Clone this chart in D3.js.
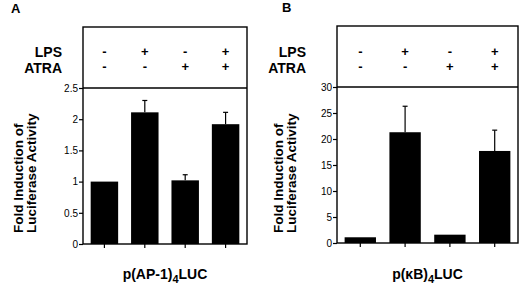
<!DOCTYPE html>
<html>
<head>
<meta charset="utf-8">
<script src="https://cdn.jsdelivr.net/npm/d3@7"></script>
<style>
  body { margin: 0; background: #fff; }
  svg { display: block; font-family: "Liberation Sans", Arial, Helvetica, sans-serif; }
</style>
</head>
<body>
<div id="chart"></div>
<script>
// treatments per bar
const lpsRow = ["-", "+", "-", "+"];
const atraRow = ["-", "-", "+", "+"];

// panel A: p(AP-1)4LUC
const ap1Values = [1.0, 2.11, 1.02, 1.92];
const ap1Errors = [0, 0.19, 0.09, 0.19];
const ap1Ticks = [0, 0.5, 1, 1.5, 2, 2.5];

// panel B: p(kB)4LUC
const kbValues = [1.1, 21.3, 1.6, 17.7];
const kbErrors = [0, 5.0, 0, 4.0];
const kbTicks = [0, 5, 10, 15, 20, 25, 30];

const svg = d3.select("#chart").append("svg")
    .attr("width", 520)
    .attr("height", 285);

function drawPanel(opt) {
    let g = svg.append("g");

    let x = d3.scaleBand()
        .domain(d3.range(4))
        .range([opt.left, opt.right])
        .paddingInner(opt.padIn)
        .paddingOuter(opt.padOut);

    let y = d3.scaleLinear()
        .domain([0, opt.ticks[opt.ticks.length - 1]])
        .range([opt.bottom, opt.divider]);

    // panel letter
    g.append("text")
        .attr("x", opt.letterX)
        .attr("y", opt.letterY)
        .style("font-size", "13px")
        .style("font-weight", "bold")
        .text(opt.letter);

    // frame: top box + plot box
    g.append("rect")
        .attr("x", opt.left)
        .attr("y", opt.top)
        .attr("width", opt.right - opt.left)
        .attr("height", opt.bottom - opt.top)
        .attr("fill", "none")
        .attr("stroke", "#000")
        .attr("stroke-width", 1.4);

    g.append("line")
        .attr("x1", opt.left).attr("x2", opt.right)
        .attr("y1", opt.divider).attr("y2", opt.divider)
        .attr("stroke", "#000")
        .attr("stroke-width", 1.4);

    // treatment rows
    g.append("text")
        .attr("x", opt.rowLabelX)
        .attr("y", 57)
        .attr("text-anchor", "end")
        .style("font-size", "14px")
        .style("font-weight", "bold")
        .text("LPS");

    g.append("text")
        .attr("x", opt.rowLabelX)
        .attr("y", 73)
        .attr("text-anchor", "end")
        .style("font-size", "14px")
        .style("font-weight", "bold")
        .text("ATRA");

    g.selectAll("text.lps")
        .data(lpsRow)
        .join("text")
        .attr("class", "lps")
        .attr("x", (d, i) => x(i) + x.bandwidth() / 2)
        .attr("y", 56)
        .attr("text-anchor", "middle")
        .style("font-size", "13px")
        .style("font-weight", "bold")
        .text(d => d);

    g.selectAll("text.atra")
        .data(atraRow)
        .join("text")
        .attr("class", "atra")
        .attr("x", (d, i) => x(i) + x.bandwidth() / 2)
        .attr("y", 71)
        .attr("text-anchor", "middle")
        .style("font-size", "13px")
        .style("font-weight", "bold")
        .text(d => d);

    // y axis
    let yAxis = d3.axisLeft(y)
        .tickValues(opt.ticks)
        .tickFormat(d => d)
        .tickSize(4)
        .tickPadding(1);

    let ya = g.append("g")
        .attr("transform", `translate(${opt.left}, 0)`)
        .call(yAxis);
    ya.select(".domain").remove();
    ya.selectAll("line").attr("stroke-width", 1.2);
    ya.selectAll("text")
        .style("font-size", "10px")
        .style("font-family", "\"Liberation Sans\", Arial, sans-serif");

    // x ticks under the bars
    let xAxis = d3.axisBottom(x)
        .tickSize(4)
        .tickFormat("");

    let xa = g.append("g")
        .attr("transform", `translate(0, ${opt.bottom})`)
        .call(xAxis);
    xa.select(".domain").remove();
    xa.selectAll("line").attr("stroke-width", 1.2);

    // error bars (upper only)
    let errs = opt.values.map((v, i) => ({i: i, v: v, e: opt.errors[i]})).filter(d => d.e > 0);

    g.selectAll("line.err")
        .data(errs)
        .join("line")
        .attr("class", "err")
        .attr("x1", d => x(d.i) + x.bandwidth() / 2)
        .attr("x2", d => x(d.i) + x.bandwidth() / 2)
        .attr("y1", d => y(d.v))
        .attr("y2", d => y(d.v + d.e))
        .attr("stroke", "#000")
        .attr("stroke-width", 1.2);

    g.selectAll("line.cap")
        .data(errs)
        .join("line")
        .attr("class", "cap")
        .attr("x1", d => x(d.i) + x.bandwidth() / 2 - 2.5)
        .attr("x2", d => x(d.i) + x.bandwidth() / 2 + 2.5)
        .attr("y1", d => y(d.v + d.e))
        .attr("y2", d => y(d.v + d.e))
        .attr("stroke", "#000")
        .attr("stroke-width", 1.2);

    // bars
    g.selectAll("rect.bar")
        .data(opt.values)
        .join("rect")
        .attr("class", "bar")
        .attr("x", (d, i) => x(i))
        .attr("y", d => y(d))
        .attr("width", x.bandwidth())
        .attr("height", d => opt.bottom - y(d))
        .attr("fill", "#000");

    // y title, both lines start at the same bottom point
    let title = g.append("text")
        .attr("transform", `translate(${opt.titleX}, 233) rotate(-90)`)
        .attr("text-anchor", "start")
        .style("font-size", "13.5px")
        .style("font-weight", "bold");
    title.append("tspan").attr("x", 0).attr("dy", 0).text("Fold Induction of");
    title.append("tspan").attr("x", 0).attr("dy", 13).text("Luciferase Activity");

    // construct label
    let lab = g.append("text")
        .attr("x", (opt.left + opt.right) / 2)
        .attr("y", 279)
        .attr("text-anchor", "middle")
        .style("font-size", "14px")
        .style("font-weight", "bold");
    lab.append("tspan").text(opt.name[0]);
    lab.append("tspan").attr("dy", 4).style("font-size", "11px").text("4");
    lab.append("tspan").attr("dy", -4).text("LUC");
}

drawPanel({
    letter: "A", letterX: 11, letterY: 13,
    left: 83, right: 247, top: 27, divider: 88, bottom: 244,
    padIn: 0.32, padOut: 0.19,
    values: ap1Values, errors: ap1Errors, ticks: ap1Ticks,
    rowLabelX: 62, titleX: 23,
    name: ["p(AP-1)"]
});

drawPanel({
    letter: "B", letterX: 282, letterY: 12,
    left: 337, right: 518, top: 26, divider: 87, bottom: 243,
    padIn: 0.30, padOut: 0.17,
    values: kbValues, errors: kbErrors, ticks: kbTicks,
    rowLabelX: 306, titleX: 283,
    name: ["p(\u03BAB)"]
});
</script>
</body>
</html>
